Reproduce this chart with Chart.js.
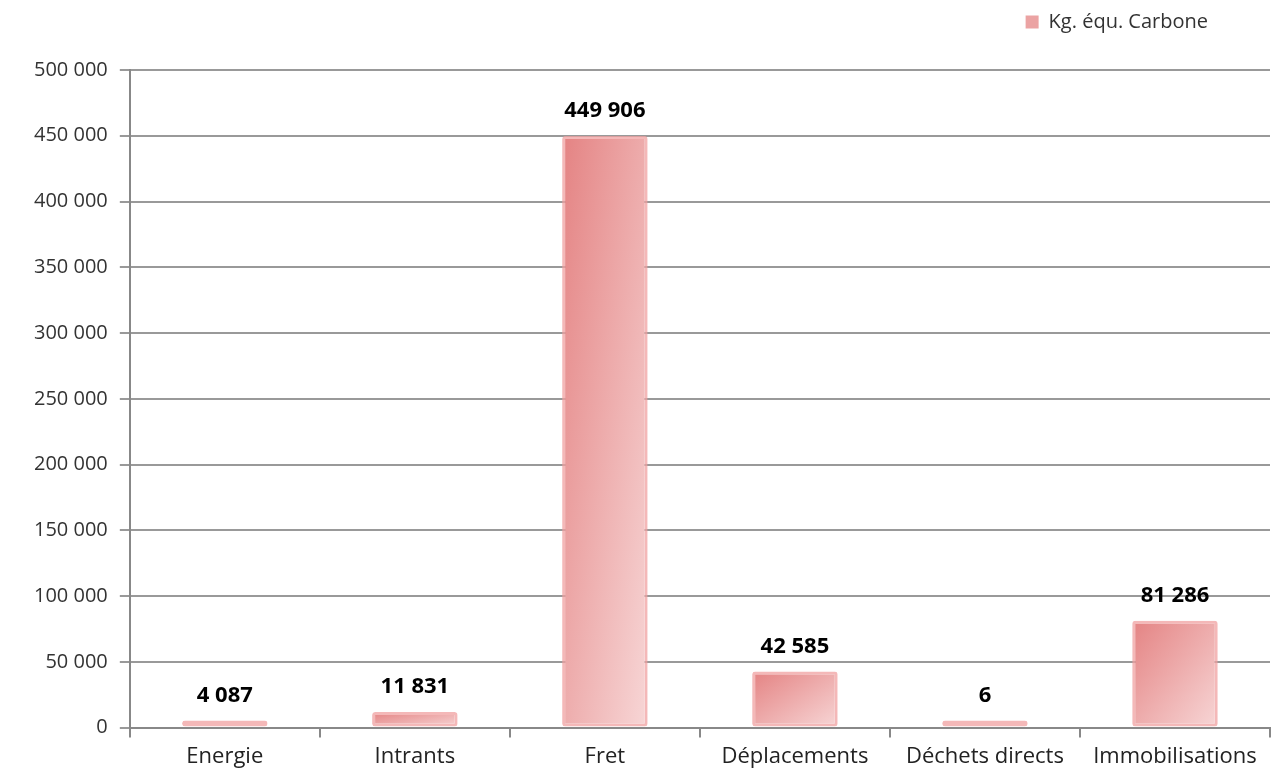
<!DOCTYPE html>
<html>
<head>
<meta charset="utf-8">
<script src="https://cdn.jsdelivr.net/npm/chart.js@4"></script>
<style>
  html, body { margin: 0; padding: 0; background: #fff; }
  #wrap { width: 1272px; height: 776px; }
</style>
</head>
<body>
<div id="wrap"><canvas id="chartCarbone"></canvas></div>
<script>
const categories = ['Energie', 'Intrants', 'Fret', 'Déplacements', 'Déchets directs', 'Immobilisations'];
const kgCarbone = [4087, 11831, 449906, 42585, 6, 81286];
const seriesLabel = 'Kg. équ. Carbone';

const fmt = v => String(Math.round(v)).replace(/\B(?=(\d{3})+(?!\d))/g, ' ');

// diagonal gradient stretched to the bar (Excel style): dark top-left, light bottom-right
function barFill(ctx) {
    const chart = ctx.chart;
    const xs = chart.scales.x, ys = chart.scales.y;
    if (!xs || !ys || ctx.dataIndex === undefined) return '#eba3a3';
    const w = 84;
    const cx = xs.getPixelForValue(ctx.dataIndex);
    const top = ys.getPixelForValue(ctx.raw);
    const bottom = ys.getPixelForValue(0);
    const h = Math.max(bottom - top, 6);
    const cy = bottom - h / 2;
    const t = (w * h) / (h * h + w * w);
    const g = chart.ctx.createLinearGradient(cx - t * h, cy - t * w, cx + t * h, cy + t * w);
    g.addColorStop(0, '#e48383');
    g.addColorStop(1, '#f7d6d6');
    return g;
}

const valueLabels = {
    id: 'valueLabels',
    afterDatasetsDraw(chart) {
        const c = chart.ctx;
        const meta = chart.getDatasetMeta(0);
        c.save();
        c.font = 'bold 22px "Open Sans", sans-serif';
        c.fillStyle = '#000';
        c.textAlign = 'center';
        c.textBaseline = 'bottom';
        meta.data.forEach((bar, i) => {
            c.fillText(fmt(kgCarbone[i]), bar.x, bar.y - 14);
        });
        c.restore();
    }
};

// extra room under the legend and move it a bit left, like the original
const legendSpace = {
    id: 'legendSpace',
    beforeInit(chart) {
        const origFit = chart.legend.fit;
        chart.legend.fit = function () {
            origFit.bind(this)();
            this.height += 28;
        };
    },
    afterLayout(chart) {
        chart.legend.left -= 50;
        chart.legend.right -= 50;
    }
};

document.addEventListener('DOMContentLoaded', function () {
    const ctx = document.getElementById('chartCarbone').getContext('2d');
    new Chart(ctx, {
        type: 'bar',
        data: {
            labels: categories,
            datasets: [{
                label: seriesLabel,
                data: kgCarbone,
                backgroundColor: barFill,
                borderColor: 'rgba(240, 160, 160, 0.75)',
                borderWidth: 3,
                borderRadius: 3,
                borderSkipped: false,
                minBarLength: 7,
                categoryPercentage: 1,
                barPercentage: 0.45
            }]
        },
        options: {
            responsive: true,
            maintainAspectRatio: false,
            animation: false,
            layout: { padding: { left: 22, right: 2, top: 0, bottom: 0 } },
            plugins: {
                legend: {
                    position: 'top',
                    align: 'end',
                    labels: {
                        boxWidth: 13,
                        boxHeight: 13,
                        color: '#333',
                        font: { family: 'Open Sans', size: 20 },
                        padding: 12,
                        generateLabels: () => [{
                            text: seriesLabel,
                            fillStyle: '#eba3a3',
                            strokeStyle: '#eba3a3',
                            lineWidth: 0,
                            fontColor: '#333'
                        }]
                    }
                },
                tooltip: { enabled: false }
            },
            scales: {
                x: {
                    offset: true,
                    grid: {
                        offset: true,
                        drawOnChartArea: false,
                        drawTicks: true,
                        tickLength: 10,
                        color: '#888',
                        lineWidth: 2
                    },
                    border: { color: '#888', width: 2 },
                    ticks: {
                        color: '#222',
                        font: { family: 'Open Sans', size: 22 },
                        padding: 6,
                        maxRotation: 0,
                        autoSkip: false
                    }
                },
                y: {
                    min: 0,
                    max: 500000,
                    grid: {
                        color: '#999',
                        lineWidth: 2,
                        tickLength: 10
                    },
                    border: { color: '#888', width: 2 },
                    ticks: {
                        stepSize: 50000,
                        color: '#333',
                        padding: 12,
                        font: { family: 'Open Sans', size: 20 },
                        callback: v => fmt(v)
                    }
                }
            }
        },
        plugins: [valueLabels, legendSpace]
    });
});
</script>
</body>
</html>
